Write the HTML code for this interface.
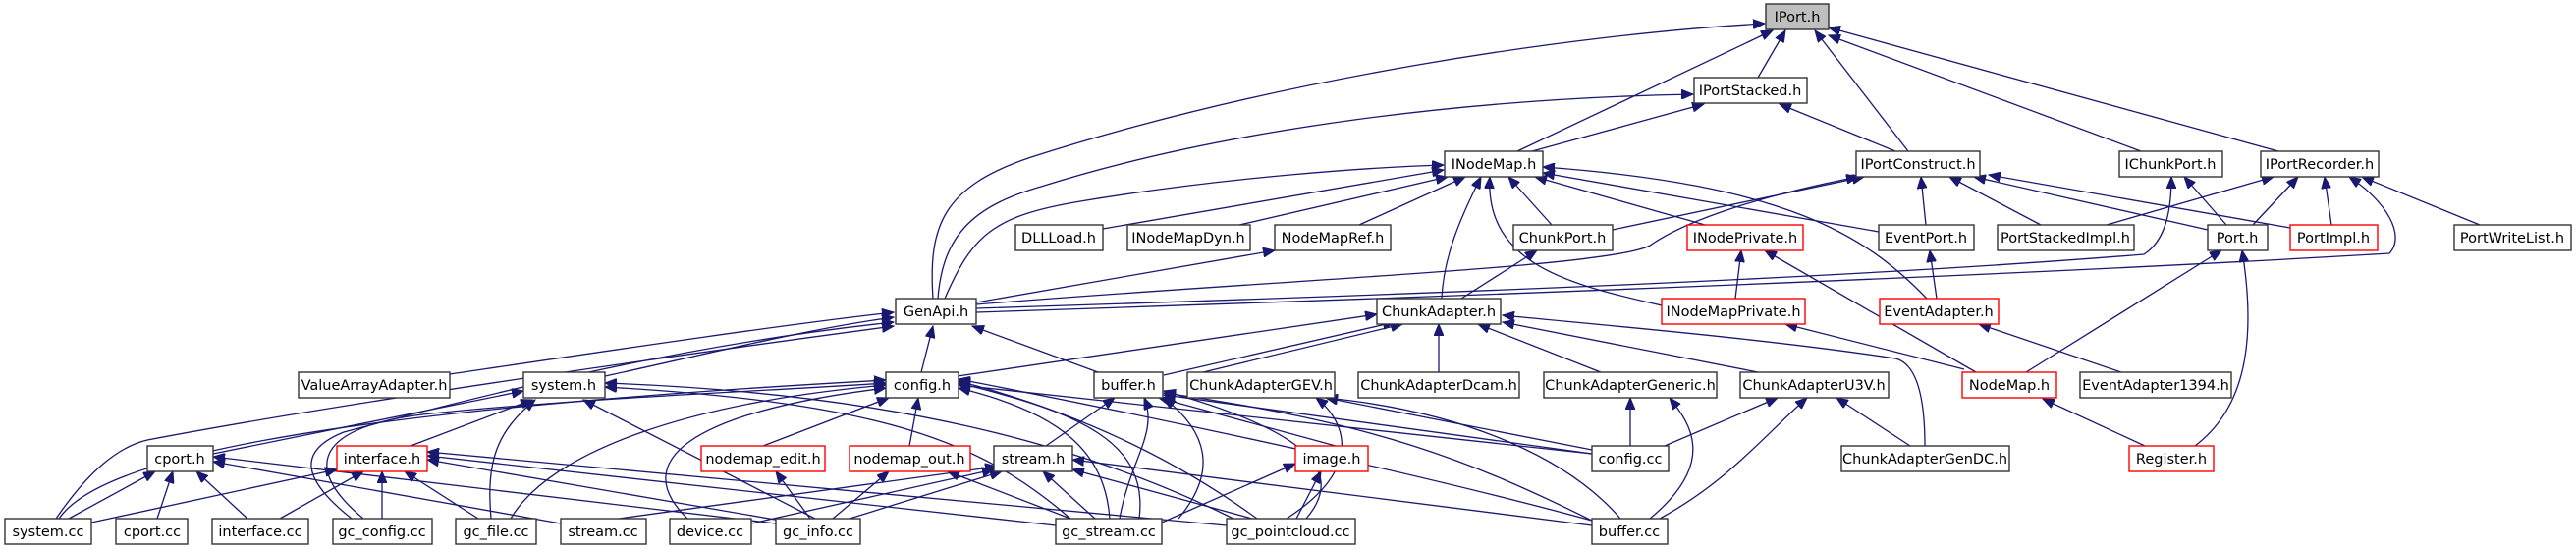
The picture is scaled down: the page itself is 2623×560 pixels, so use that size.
<!DOCTYPE html>
<html><head><meta charset="utf-8"><style>
html,body{margin:0;padding:0;background:#fff;}
svg{display:block}
text{font-family:"DejaVu Sans","Liberation Sans",sans-serif;font-size:14.5px;fill:#000;text-anchor:middle}
.e{fill:none;stroke:#191970;stroke-width:1.3}
.b{fill:#fff;stroke:#333;stroke-width:1.4}
.r{fill:#fff;stroke:#ff0000;stroke-width:1.4}
</style></head><body>
<svg width="2623" height="560" viewBox="0 0 2623 560" xmlns="http://www.w3.org/2000/svg">
<defs><marker id="a" markerUnits="userSpaceOnUse" markerWidth="13" markerHeight="10" refX="12" refY="5" orient="auto"><path d="M0,0 L12,5 L0,10 z" fill="#191970" stroke="#191970"/></marker></defs>
<g marker-end="url(#a)">
<path class="e" d="M1790,79 L1818,31"/>
<path class="e" d="M1545,154 L1805,31"/>
<path class="e" d="M1943,154 L1848,31"/>
<path class="e" d="M2180,154 L1862,36"/>
<path class="e" d="M2320,154 L1862,28"/>
<path class="e" d="M950,304 C945,230 960,190 1050,160 C1300,80 1600,35 1797,24"/>
<path class="e" d="M1560,154 L1735,106"/>
<path class="e" d="M1930,154 L1812,106"/>
<path class="e" d="M955,304 C960,240 990,210 1060,190 C1250,130 1500,100 1724,96"/>
<path class="e" d="M962,304 C990,240 1010,220 1100,205 C1250,180 1400,170 1470,168"/>
<path class="e" d="M1123,233 L1470,173"/>
<path class="e" d="M1262,229 L1474,180"/>
<path class="e" d="M1384,229 L1492,180"/>
<path class="e" d="M1580,229 L1536,180"/>
<path class="e" d="M1736,229 L1563,180"/>
<path class="e" d="M1468,304 C1470,260 1488,220 1508,180"/>
<path class="e" d="M1692,311 C1600,290 1512,270 1517,180"/>
<path class="e" d="M1913,236 L1571,176"/>
<path class="e" d="M1962,304 C1900,240 1820,188 1571,170"/>
<path class="e" d="M994,308 L1298,255"/>
<path class="e" d="M1642,234 L1898,180"/>
<path class="e" d="M994,310 C1300,285 1640,272 1680,250 C1720,222 1800,198 1892,180"/>
<path class="e" d="M1961,229 L1956,180"/>
<path class="e" d="M2078,229 L1985,180"/>
<path class="e" d="M2248,234 L2010,180"/>
<path class="e" d="M2332,232 L2025,178"/>
<path class="e" d="M994,314 C1500,298 1900,282 2183,259 C2205,245 2211,215 2211,180"/>
<path class="e" d="M2267,229 L2224,180"/>
<path class="e" d="M2145,229 L2315,180"/>
<path class="e" d="M2294,229 L2340,180"/>
<path class="e" d="M2374,229 L2367,180"/>
<path class="e" d="M994,318 C1600,298 2100,278 2433,258 C2450,240 2430,205 2392,180"/>
<path class="e" d="M2525,229 L2405,180"/>
<path class="e" d="M1488,304 L1565,255"/>
<path class="e" d="M1767,304 L1773,255"/>
<path class="e" d="M2012,379 L1797,255"/>
<path class="e" d="M1972,304 L1965,255"/>
<path class="e" d="M2063,379 L2262,255"/>
<path class="e" d="M2235,454 C2280,420 2300,360 2283,255"/>
<path class="e" d="M2160,379 L2015,330"/>
<path class="e" d="M2000,376 L1818,330"/>
<path class="e" d="M2184,454 L2080,406"/>
<path class="e" d="M458,381 C600,360 800,330 910,318"/>
<path class="e" d="M616,383 C700,365 820,335 910,323"/>
<path class="e" d="M358,528 C310,490 300,460 350,440 C500,400 700,350 910,328"/>
<path class="e" d="M57,528 C90,480 120,455 150,448 C350,410 700,360 910,332"/>
<path class="e" d="M938,379 L950,332"/>
<path class="e" d="M1118,379 L990,332"/>
<path class="e" d="M975,383 L1402,320"/>
<path class="e" d="M1185,382 L1420,328"/>
<path class="e" d="M1225,379 L1428,330"/>
<path class="e" d="M1465,379 L1465,330"/>
<path class="e" d="M1630,379 L1505,330"/>
<path class="e" d="M1790,379 L1530,328"/>
<path class="e" d="M1960,454 C1960,400 1950,370 1930,365 C1800,345 1620,330 1530,321"/>
<path class="e" d="M1660,454 L1660,405"/>
<path class="e" d="M1680,528 C1750,470 1720,430 1700,405"/>
<path class="e" d="M1695,454 L1810,405"/>
<path class="e" d="M1690,528 C1760,490 1800,440 1840,405"/>
<path class="e" d="M1945,454 L1870,405"/>
<path class="e" d="M1621,458 L1350,405"/>
<path class="e" d="M1650,528 C1600,470 1500,420 1350,405"/>
<path class="e" d="M1310,528 C1400,470 1360,420 1340,405"/>
<path class="e" d="M1065,454 L1135,405"/>
<path class="e" d="M1140,528 C1150,470 1180,440 1165,405"/>
<path class="e" d="M1200,528 C1240,480 1230,440 1185,405"/>
<path class="e" d="M1360,454 L1180,405"/>
<path class="e" d="M1621,462 L1185,402"/>
<path class="e" d="M1621,530 C1500,470 1400,430 1185,400"/>
<path class="e" d="M1330,528 C1380,470 1300,430 1185,398"/>
<path class="e" d="M777,454 L905,405"/>
<path class="e" d="M926,454 L935,405"/>
<path class="e" d="M1130,528 C1125,460 1080,420 976,395"/>
<path class="e" d="M1160,528 C1170,450 1100,420 976,390"/>
<path class="e" d="M1280,528 C1200,470 1100,420 976,388"/>
<path class="e" d="M1621,462 L976,392"/>
<path class="e" d="M1621,530 C1400,470 1100,410 976,386"/>
<path class="e" d="M700,528 C640,470 700,420 902,395"/>
<path class="e" d="M520,528 C560,460 700,410 902,392"/>
<path class="e" d="M370,528 C300,470 330,430 450,420 C600,405 800,397 902,390"/>
<path class="e" d="M60,528 C100,470 300,420 902,387"/>
<path class="e" d="M217,462 L533,398"/>
<path class="e" d="M418,454 L542,407"/>
<path class="e" d="M500,528 C495,470 505,440 545,407"/>
<path class="e" d="M830,528 L594,407"/>
<path class="e" d="M1090,528 C1000,450 900,410 616,394"/>
<path class="e" d="M1260,530 C1100,450 900,400 616,390"/>
<path class="e" d="M70,528 L158,480"/>
<path class="e" d="M160,528 L176,480"/>
<path class="e" d="M252,528 L200,480"/>
<path class="e" d="M571,533 L217,470"/>
<path class="e" d="M790,533 L217,465"/>
<path class="e" d="M93,532 L343,478"/>
<path class="e" d="M285,528 L370,480"/>
<path class="e" d="M389,528 L389,480"/>
<path class="e" d="M487,528 L412,480"/>
<path class="e" d="M795,530 L435,468"/>
<path class="e" d="M1075,535 L435,464"/>
<path class="e" d="M1249,535 L435,460"/>
<path class="e" d="M865,528 L1020,480"/>
<path class="e" d="M1115,528 L1062,480"/>
<path class="e" d="M1275,528 L1092,478"/>
<path class="e" d="M765,533 L1012,478"/>
<path class="e" d="M1621,535 L1092,468"/>
<path class="e" d="M630,528 L1015,475"/>
<path class="e" d="M825,528 L790,480"/>
<path class="e" d="M848,528 L905,480"/>
<path class="e" d="M1090,528 L965,480"/>
<path class="e" d="M1183,532 L1319,472"/>
<path class="e" d="M1320,528 L1345,480"/>
</g>
<rect x="1798" y="4" width="64" height="26" fill="#bfbfbf" stroke="#333" stroke-width="1.4"/><text x="1830" y="22">IPort.h</text>
<rect class="b" x="1725" y="79" width="115" height="26"/><text x="1782" y="97">IPortStacked.h</text>
<rect class="b" x="1471" y="154" width="100" height="26"/><text x="1521" y="172">INodeMap.h</text>
<rect class="b" x="1890" y="154" width="126" height="26"/><text x="1953" y="172">IPortConstruct.h</text>
<rect class="b" x="2158" y="154" width="105" height="26"/><text x="2210" y="172">IChunkPort.h</text>
<rect class="b" x="2302" y="154" width="120" height="26"/><text x="2362" y="172">IPortRecorder.h</text>
<rect class="b" x="1034" y="229" width="89" height="26"/><text x="1078" y="247">DLLLoad.h</text>
<rect class="b" x="1148" y="229" width="125" height="26"/><text x="1210" y="247">INodeMapDyn.h</text>
<rect class="b" x="1298" y="229" width="118" height="26"/><text x="1357" y="247">NodeMapRef.h</text>
<rect class="b" x="1541" y="229" width="101" height="26"/><text x="1591" y="247">ChunkPort.h</text>
<rect class="r" x="1718" y="229" width="118" height="26"/><text x="1777" y="247">INodePrivate.h</text>
<rect class="b" x="1913" y="229" width="97" height="26"/><text x="1961" y="247">EventPort.h</text>
<rect class="b" x="2034" y="229" width="139" height="26"/><text x="2103" y="247">PortStackedImpl.h</text>
<rect class="b" x="2248" y="229" width="61" height="26"/><text x="2278" y="247">Port.h</text>
<rect class="r" x="2332" y="229" width="89" height="26"/><text x="2376" y="247">PortImpl.h</text>
<rect class="b" x="2499" y="229" width="119" height="26"/><text x="2558" y="247">PortWriteList.h</text>
<rect class="b" x="912" y="304" width="82" height="26"/><text x="953" y="322">GenApi.h</text>
<rect class="b" x="1402" y="304" width="126" height="26"/><text x="1465" y="322">ChunkAdapter.h</text>
<rect class="r" x="1692" y="304" width="146" height="26"/><text x="1765" y="322">INodeMapPrivate.h</text>
<rect class="r" x="1914" y="304" width="121" height="26"/><text x="1974" y="322">EventAdapter.h</text>
<rect class="b" x="304" y="379" width="154" height="26"/><text x="381" y="397">ValueArrayAdapter.h</text>
<rect class="b" x="533" y="379" width="83" height="26"/><text x="574" y="397">system.h</text>
<rect class="b" x="902" y="379" width="74" height="26"/><text x="939" y="397">config.h</text>
<rect class="b" x="1114" y="379" width="70" height="26"/><text x="1149" y="397">buffer.h</text>
<rect class="b" x="1209" y="379" width="150" height="26"/><text x="1284" y="397">ChunkAdapterGEV.h</text>
<rect class="b" x="1383" y="379" width="164" height="26"/><text x="1465" y="397">ChunkAdapterDcam.h</text>
<rect class="b" x="1572" y="379" width="176" height="26"/><text x="1660" y="397">ChunkAdapterGeneric.h</text>
<rect class="b" x="1772" y="379" width="151" height="26"/><text x="1847" y="397">ChunkAdapterU3V.h</text>
<rect class="r" x="1998" y="379" width="96" height="26"/><text x="2046" y="397">NodeMap.h</text>
<rect class="b" x="2118" y="379" width="154" height="26"/><text x="2195" y="397">EventAdapter1394.h</text>
<rect class="b" x="150" y="454" width="67" height="26"/><text x="183" y="472">cport.h</text>
<rect class="r" x="343" y="454" width="92" height="26"/><text x="389" y="472">interface.h</text>
<rect class="r" x="714" y="454" width="126" height="26"/><text x="777" y="472">nodemap_edit.h</text>
<rect class="r" x="865" y="454" width="123" height="26"/><text x="926" y="472">nodemap_out.h</text>
<rect class="b" x="1012" y="454" width="80" height="26"/><text x="1052" y="472">stream.h</text>
<rect class="r" x="1319" y="454" width="74" height="26"/><text x="1356" y="472">image.h</text>
<rect class="b" x="1621" y="454" width="78" height="26"/><text x="1660" y="472">config.cc</text>
<rect class="b" x="1875" y="454" width="171" height="26"/><text x="1960" y="472">ChunkAdapterGenDC.h</text>
<rect class="r" x="2168" y="454" width="86" height="26"/><text x="2211" y="472">Register.h</text>
<rect class="b" x="5" y="528" width="88" height="26"/><text x="49" y="546">system.cc</text>
<rect class="b" x="118" y="528" width="73" height="26"/><text x="155" y="546">cport.cc</text>
<rect class="b" x="216" y="528" width="98" height="26"/><text x="265" y="546">interface.cc</text>
<rect class="b" x="339" y="528" width="101" height="26"/><text x="389" y="546">gc_config.cc</text>
<rect class="b" x="464" y="528" width="82" height="26"/><text x="505" y="546">gc_file.cc</text>
<rect class="b" x="571" y="528" width="87" height="26"/><text x="614" y="546">stream.cc</text>
<rect class="b" x="682" y="528" width="83" height="26"/><text x="723" y="546">device.cc</text>
<rect class="b" x="790" y="528" width="86" height="26"/><text x="833" y="546">gc_info.cc</text>
<rect class="b" x="1075" y="528" width="108" height="26"/><text x="1129" y="546">gc_stream.cc</text>
<rect class="b" x="1249" y="528" width="131" height="26"/><text x="1314" y="546">gc_pointcloud.cc</text>
<rect class="b" x="1621" y="528" width="77" height="26"/><text x="1659" y="546">buffer.cc</text>
</svg>
</body></html>
